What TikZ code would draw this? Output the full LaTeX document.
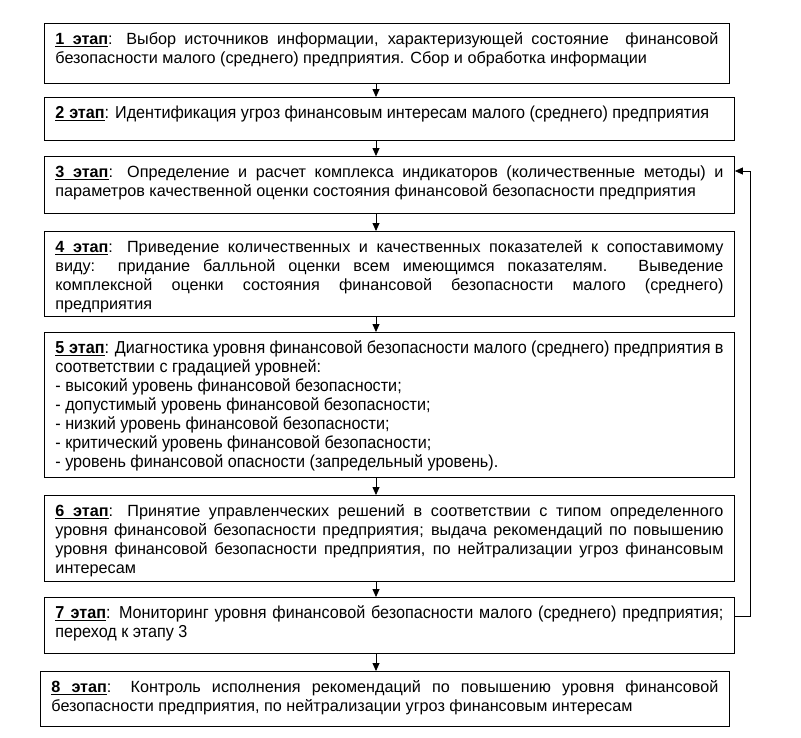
\documentclass[tikz,border=0pt]{standalone}
\usepackage{fontspec}
\setmainfont{Liberation Sans}
\newfontfamily\narrowfont{Liberation Sans}[FakeStretch=0.935]
\usepackage{tikz}
\usetikzlibrary{arrows.meta, positioning}
\newcommand{\ulbox}[1]{\setbox0\hbox{#1}\rlap{\rule[-2.3pt]{\wd0}{1pt}}\box0}
\newcommand{\etap}[1]{\ulbox{\textbf{#1}}%
    \leaders\hrule height -1.3pt depth 2.3pt\hskip .278em plus .139em minus .09em%
    \ulbox{\textbf{этап}}}
\newcommand{\jline}[1]{\makebox[\linewidth][s]{#1}\\}
\newcommand{\stagetext}[3]{\parbox[c][#1][t]{#2}{\strut #3}}

\begin{document}
\begin{tikzpicture}[x=1pt, y=-1pt,
    stage/.style={draw, line width=0.9pt, anchor=north west, inner xsep=11pt, inner ysep=8pt,
      font=\fontsize{16.2}{19}\selectfont},
    narrow/.style={font=\narrowfont\fontsize{17.3}{19}\selectfont},
    flow/.style={-{Triangle[length=8pt, width=7pt]}, line width=0.8pt}]
    \useasboundingbox (0,0) rectangle (801,737);
    \coordinate (axis) at (376,0);

    \node[stage] (s1) at (44,23) {\stagetext{44pt}{663pt}{%
        \jline{\etap{1}: Выбор источников информации, характеризующей состояние \ финансовой}
        безопасности малого (среднего) предприятия. Сбор и обработка информации}};
    \node[stage, narrow] (s2) at (44,97) {\stagetext{27pt}{668pt}{%
        \etap{2}: Идентификация угроз финансовым интересам малого (среднего) предприятия}};
    \node[stage] (s3) at (44,156) {\stagetext{41pt}{668pt}{%
        \jline{\etap{3}: Определение и расчет комплекса индикаторов (количественные методы) и}
        параметров качественной оценки состояния финансовой безопасности предприятия}};
    \node[stage] (s4) at (44,231) {\stagetext{69pt}{668pt}{%
        \jline{\etap{4}: Приведение количественных и качественных показателей к сопоставимому}
        \jline{виду: придание балльной оценки всем имеющимся показателям. Выведение}
        \jline{комплексной оценки состояния финансовой безопасности малого (среднего)}
        предприятия}};
    \node[stage, narrow] (s5) at (44,332) {\stagetext{129pt}{668pt}{%
        \jline{\etap{5}: Диагностика уровня финансовой безопасности малого (среднего) предприятия в}
        соответствии с градацией уровней:\\
        - высокий уровень финансовой безопасности;\\
        - допустимый уровень финансовой безопасности;\\
        - низкий уровень финансовой безопасности;\\
        - критический уровень финансовой безопасности;\\
        - уровень финансовой опасности (запредельный уровень).}};
    \node[stage] (s6) at (44,495) {\stagetext{70pt}{668pt}{%
        \jline{\etap{6}: Принятие управленческих решений в соответствии с типом определенного}
        \jline{уровня финансовой безопасности предприятия; выдача рекомендаций по повышению}
        \jline{уровня финансовой безопасности предприятия, по нейтрализации угроз финансовым}
        интересам}};
    \node[stage, narrow] (s7) at (44,597) {\stagetext{40pt}{668pt}{%
        \jline{\etap{7}: Мониторинг уровня финансовой безопасности малого (среднего) предприятия;}
        переход к этапу 3}};
    \node[stage] (s8) at (40,671) {\stagetext{39pt}{667pt}{%
        \jline{\etap{8}: Контроль исполнения рекомендаций по повышению уровня финансовой}
        безопасности предприятия, по нейтрализации угроз финансовым интересам}};

    % arrows between the stages
    \foreach \a/\b in {s1/s2, s2/s3, s3/s4, s4/s5, s5/s6, s6/s7, s7/s8}
        \draw[flow] (\a.south -| axis) -- (\b.north -| axis);
    % return from stage 7 to stage 3
    \draw[flow] ([yshift=-19pt]s7.north east) -- ++(15,0) |- ([yshift=-15pt]s3.north east);
\end{tikzpicture}
\end{document}
